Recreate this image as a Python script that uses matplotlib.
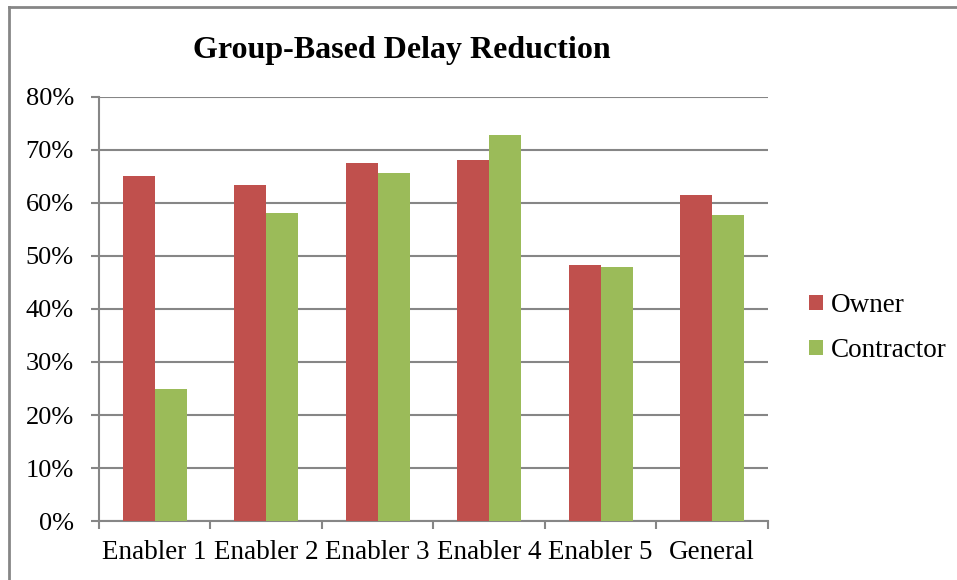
import numpy as np
import matplotlib.pyplot as plt
from matplotlib.lines import Line2D

# values
categories = ['Enabler 1', 'Enabler 2', 'Enabler 3', 'Enabler 4', 'Enabler 5', 'General']
owner = [65.0, 63.3, 67.5, 68.2, 48.3, 61.6]
contractor = [24.9, 58.2, 65.6, 72.8, 47.9, 57.7]
yticks = [0, 10, 20, 30, 40, 50, 60, 70, 80]

plt.rcParams['font.family'] = ['Liberation Serif', 'DejaVu Serif']

fig = plt.figure(figsize=(9.57, 5.8), dpi=100)
ax = fig.add_axes([0.1034, 0.1017, 0.6991, 0.7311])

x = np.arange(len(categories))
w = 0.287
ax.bar(x - w / 2, owner, width=w, color='#C0504D', label='Owner', zorder=3)
ax.bar(x + w / 2, contractor, width=w, color='#9BBB59', label='Contractor', zorder=3)

ax.set_xlim(-0.5, len(categories) - 0.5)
ax.set_ylim(0, 80)
ax.set_yticks(yticks)
ax.set_yticklabels([f'{v}%' for v in yticks], fontsize=19)
ax.set_xticks(x)
ax.set_xticklabels(categories, fontsize=19.5)
ax.set_xticks(np.arange(-0.5, len(categories)), minor=True)
ax.tick_params(axis='x', which='major', length=0, pad=14)
ax.tick_params(axis='x', which='minor', length=6, width=1.5, color='#868686')
ax.tick_params(axis='y', length=6, width=1.5, color='#868686', pad=12)

ax.grid(axis='y', color='#868686', linewidth=1.5, zorder=0)
for s in ['top', 'right']:
    ax.spines[s].set_visible(False)
for s in ['left', 'bottom']:
    ax.spines[s].set_color('#868686')
    ax.spines[s].set_linewidth(1.5)

fig.text(0.42, 0.913, 'Group-Based Delay Reduction', ha='center', va='center',
         fontsize=23, fontweight='bold')

ax.legend(loc='center left', bbox_to_anchor=(1.025, 0.455), frameon=False,
          fontsize=19.5, handlelength=0.5, handleheight=0.5, handletextpad=0.3,
          labelspacing=0.75)

# outer frame: only top and left edges are visible in the reference
fig.add_artist(Line2D([0.0099, 1.0], [0.988, 0.988], transform=fig.transFigure,
                      color='#868686', linewidth=2))
fig.add_artist(Line2D([0.0099, 0.0099], [0.0, 0.988], transform=fig.transFigure,
                      color='#868686', linewidth=2))

fig.savefig('out.png', dpi=100)
